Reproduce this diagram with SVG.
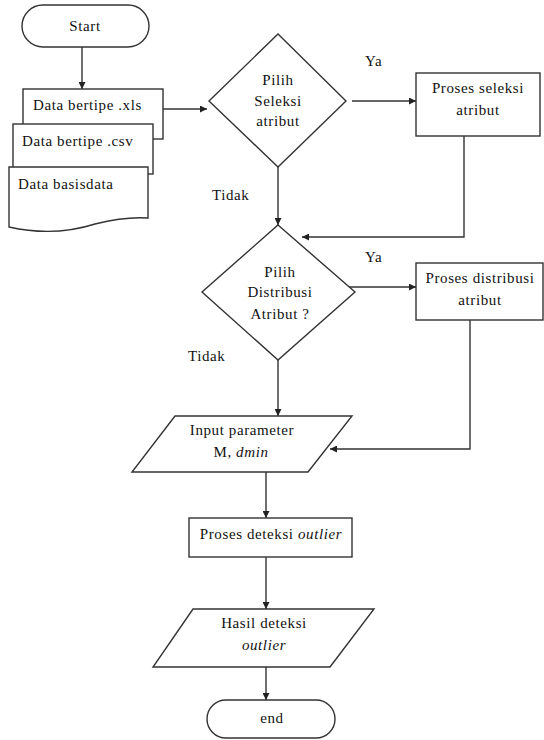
<svg xmlns="http://www.w3.org/2000/svg" width="544" height="740" viewBox="0 0 544 740">
<defs>
<marker id="ah" viewBox="0 0 10 10" refX="10" refY="5" markerWidth="7" markerHeight="7" markerUnits="userSpaceOnUse" orient="auto">
<path d="M0,0 L10,5 L0,10 Z" fill="#222"/>
</marker>
<style>
.s{fill:#fff;stroke:#333;stroke-width:1.4}
.c{fill:none;stroke:#333;stroke-width:1.4}
text{font-family:"Liberation Serif","Times New Roman",serif;font-size:15px;fill:#111;letter-spacing:0.6px}
.m{text-anchor:middle}
.i{font-style:italic}
</style>
</defs>
<rect width="544" height="740" fill="#fff"/>
<g id="connectors">
<line class="c" x1="82" y1="47" x2="82" y2="89" marker-end="url(#ah)"/>
<line class="c" x1="163" y1="109" x2="207" y2="109" marker-end="url(#ah)"/>
<line class="c" x1="352" y1="101" x2="416" y2="101" marker-end="url(#ah)"/>
<line class="c" x1="278" y1="167" x2="278" y2="225" marker-end="url(#ah)"/>
<polyline class="c" points="464,136 464,237 302,237" marker-end="url(#ah)"/>
<line class="c" x1="347" y1="287" x2="416" y2="287" marker-end="url(#ah)"/>
<line class="c" x1="278" y1="360" x2="278" y2="416" marker-end="url(#ah)"/>
<polyline class="c" points="470,320 470,449 330,449" marker-end="url(#ah)"/>
<line class="c" x1="266" y1="472" x2="266" y2="518" marker-end="url(#ah)"/>
<line class="c" x1="266" y1="557" x2="266" y2="609" marker-end="url(#ah)"/>
<line class="c" x1="266" y1="667" x2="266" y2="700" marker-end="url(#ah)"/>
</g>
<g id="start">
<rect class="s" x="22" y="5" width="127" height="42" rx="21"/>
<text class="m" x="85" y="31">Start</text>
</g>
<g id="data-xls">
<rect class="s" x="23" y="89" width="140" height="50"/>
<text x="33" y="110">Data bertipe .xls</text>
</g>
<g id="data-csv">
<rect class="s" x="13" y="124" width="140" height="50"/>
<text x="22" y="146">Data bertipe .csv</text>
</g>
<g id="data-basisdata">
<path class="s" d="M9,167 H148 V218 C135,217 115,219 95,224 C70,232 40,234 9,227 Z"/>
<text x="18" y="189">Data basisdata</text>
</g>
<g id="pilih-seleksi">
<polygon class="s" points="278,34 346,101 278,167 209,101"/>
<text class="m" x="278" y="85">Pilih</text>
<text class="m" x="278" y="106">Seleksi</text>
<text class="m" x="278" y="126">atribut</text>
</g>
<g id="label-ya-1"><text x="365" y="66">Ya</text></g>
<g id="label-tidak-1"><text x="212" y="200">Tidak</text></g>
<g id="proses-seleksi">
<rect class="s" x="416" y="73" width="124" height="63"/>
<text class="m" x="478" y="93">Proses seleksi</text>
<text class="m" x="478" y="115">atribut</text>
</g>
<g id="pilih-distribusi">
<polygon class="s" points="278,225 355,292 278,360 202,292"/>
<text class="m" x="280" y="277">Pilih</text>
<text class="m" x="280" y="297">Distribusi</text>
<text class="m" x="280" y="319">Atribut ?</text>
</g>
<g id="label-ya-2"><text x="365" y="262">Ya</text></g>
<g id="label-tidak-2"><text x="188" y="361">Tidak</text></g>
<g id="proses-distribusi">
<rect class="s" x="416" y="263" width="127" height="57"/>
<text class="m" x="480" y="283">Proses distribusi</text>
<text class="m" x="480" y="305">atribut</text>
</g>
<g id="input-parameter">
<polygon class="s" points="175,416 352,416 308,472 132,472"/>
<text class="m" x="242" y="435">Input parameter</text>
<text class="m" x="241" y="457">M, <tspan class="i">dmin</tspan></text>
</g>
<g id="proses-deteksi">
<rect class="s" x="189" y="518" width="163" height="39"/>
<text class="m" x="271" y="539">Proses deteksi <tspan class="i">outlier</tspan></text>
</g>
<g id="hasil-deteksi">
<polygon class="s" points="193,609 374,609 330,667 153,667"/>
<text class="m" x="264" y="628">Hasil deteksi</text>
<text class="m i" x="264" y="650">outlier</text>
</g>
<g id="end">
<rect class="s" x="207" y="700" width="128" height="38" rx="19"/>
<text class="m" x="272" y="723">end</text>
</g>
</svg>
